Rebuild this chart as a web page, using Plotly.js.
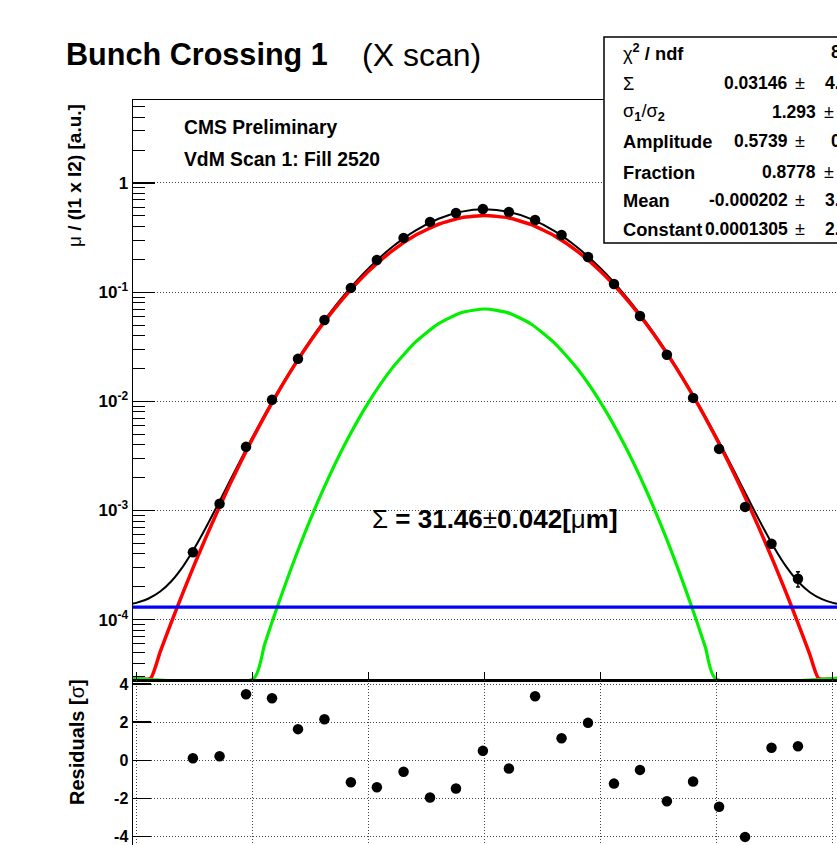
<!DOCTYPE html>
<html>
<head>
<meta charset="utf-8">
<script src="https://cdn.plot.ly/plotly-3.0.1.min.js"></script>
<style>
html,body{margin:0;padding:0;overflow:hidden;background:#fff;}
#wrap{width:837px;height:845px;overflow:hidden;position:relative;background:#fff;}
</style>
</head>
<body>
<div id="wrap"><div id="plot" style="width:860px;height:880px"></div></div>
<script>
// ---- scan data (x in mm) ----
const scanX = [-0.1259, -0.1144, -0.1030, -0.0918, -0.0806, -0.0692, -0.0578, -0.0466, -0.0351, -0.0237, -0.0125, -0.0009,
               0.0103, 0.0216, 0.0330, 0.0444, 0.0556, 0.0668, 0.0784, 0.0897, 0.1009, 0.1121, 0.1235, 0.1349];
const scanRate = [4.15e-4, 1.153e-3, 3.83e-3, 0.01032, 0.0245, 0.0557, 0.1094, 0.197, 0.314, 0.440, 0.531, 0.578,
                  0.543, 0.458, 0.334, 0.210, 0.119, 0.0606, 0.0267, 0.01076, 3.67e-3, 1.08e-3, 4.96e-4, 2.37e-4];
const scanErr = [2.2e-5, 3.5e-5, 7e-5, 1.2e-4, 2.2e-4, 3.5e-4, 5.5e-4, 8e-4, 1.1e-3, 1.4e-3, 1.6e-3, 1.7e-3,
                 1.6e-3, 1.4e-3, 1.2e-3, 8.5e-4, 5.8e-4, 3.6e-4, 2.1e-4, 1.2e-4, 6.8e-5, 3.8e-5, 2.5e-5, 3.8e-5];
const residuals = [0.10, 0.21, 3.46, 3.25, 1.63, 2.15, -1.16, -1.42, -0.61, -1.96, -1.49, 0.49,
                   -0.44, 3.36, 1.15, 1.96, -1.23, -0.51, -2.16, -1.12, -2.45, -4.03, 0.65, 0.73];

// ---- fit curves ----
const totalX = [-0.152, -0.15, -0.145, -0.14, -0.135, -0.13, -0.125, -0.12, -0.115, -0.11, -0.105, -0.10,
                -0.09, -0.08, -0.07, -0.06, -0.05, -0.04, -0.03, -0.02, -0.01, 0,
                0.01, 0.02, 0.03, 0.04, 0.05, 0.06, 0.07, 0.08, 0.09,
                0.10, 0.105, 0.11, 0.115, 0.12, 0.125, 0.13, 0.135, 0.14, 0.145, 0.15, 0.152];
const totalY = [1.403e-4, 1.435e-4, 1.5654e-4, 1.814e-4, 2.2765e-4, 3.116e-4, 4.6047e-4, 7.175e-4, 1.1510e-3, 1.8632e-3, 3.0060e-3, 4.7926e-3,
                0.011567, 0.025733, 0.052485, 0.097916, 0.16683, 0.25929, 0.36665, 0.47054, 0.54666, 0.57403,
                0.54438, 0.46669, 0.3622, 0.25518, 0.16359, 0.095629, 0.051078, 0.024957, 0.011178,
                0.0046177, 2.8928e-3, 0.0017923, 1.1072e-3, 0.00069117, 4.451e-4, 0.00030281, 2.2275e-4, 0.00017874, 1.5514e-4, 0.00014279, 0.0001398];
const redX = [-0.152, -0.1442, -0.14, -0.135, -0.13, -0.125, -0.12, -0.115, -0.11, -0.105, -0.10,
              -0.09, -0.08, -0.07, -0.06, -0.05, -0.04, -0.03, -0.02, -0.01, 0,
              0.01, 0.02, 0.03, 0.04, 0.05, 0.06, 0.07, 0.08, 0.09,
              0.10, 0.105, 0.11, 0.115, 0.12, 0.125, 0.13, 0.135, 0.14, 0.1438, 0.152];
const redY = [2.9e-5, 2.9e-5, 5.0875e-5, 9.711e-5, 1.8102e-4, 3.2964e-4, 5.8614e-4, 1.0183e-3, 1.7274e-3, 2.8632e-3, 4.6345e-3,
              0.011314, 0.025136, 0.050841, 0.093586, 0.15675, 0.23901, 0.33166, 0.4189, 0.4815, 0.50377,
              0.47964, 0.4157, 0.32787, 0.2354, 0.15382, 0.091457, 0.0495, 0.024384, 0.010932,
              0.0044613, 2.7508e-3, 0.0016569, 9.747e-4, 0.00055997, 3.1432e-4, 0.00017231, 9.225e-5, 0.00004824, 2.9e-5, 2.9e-5];
const greenX = [-0.152, -0.0997, -0.095, -0.09, -0.08, -0.07, -0.06, -0.05, -0.04, -0.03, -0.02, -0.01, 0,
                0.01, 0.02, 0.03, 0.04, 0.05, 0.06, 0.07, 0.08, 0.09, 0.095, 0.0993, 0.152];
const greenY = [2.9e-5, 2.9e-5, 5.929e-5, 1.2264e-4, 4.6613e-4, 1.5136e-3, 4.1996e-3, 9.954e-3, 0.020151, 0.034855, 0.05151,
                0.06503, 0.070131, 0.064614, 0.050861, 0.034197, 0.019647, 0.0096428, 0.004042, 0.0014479, 4.4299e-4,
                1.1583e-4, 5.583e-5, 2.9e-5, 2.9e-5];
const constX = [-0.152, 0.152];
const constY = [1.305e-4, 1.305e-4];

// ---- axis labels ----
const majorTickVals = [1e-4, 1e-3, 1e-2, 1e-1, 1];
const majorTickText = ['10<sup>-4</sup>', '10<sup>-3</sup>', '10<sup>-2</sup>', '10<sup>-1</sup>', '1'];
const residTickVals = [-4, -2, 0, 2, 4];
const residTickText = ['-4', '-2', '0', '2', '4'];

// ---- stats box text ----
const statLabels = ['χ<sup><b>2</b></sup><b> / ndf</b>', 'Σ', 'σ<sub><b>1</b></sub>/σ<sub><b>2</b></sub>',
                    '<b>Amplitude</b>', '<b>Fraction</b>', '<b>Mean</b>', '<b>Constant</b>'];
const statValues = ['', '0.03146', '1.293', '0.5739', '0.8778', '-0.000202', '0.0001305'];
const statErrors = ['81.98 / 21', '4.213e-05', '0.0157', '0.0006', '0.0021', '3.3e-05', '2.1e-05'];

const FONT = 'Liberation Sans, Arial, Helvetica, sans-serif';
const W = 860, H = 880, L = 133, R = 22, T = 100, B = 25;
const PW = W - L - R, PH = H - T - B;
const splitY = 680;
const splitFrac = (T + PH - splitY) / PH;
function px(x) { return (x - L) / PW; }
function py(y) { return (T + PH - y) / PH; }

const traces = [
  {x: totalX, y: totalY, xaxis: 'x', yaxis: 'y', mode: 'lines', line: {color: '#000', width: 2, shape: 'spline', smoothing: 0.7}, hoverinfo: 'skip'},
  {x: redX, y: redY, xaxis: 'x', yaxis: 'y', mode: 'lines', line: {color: '#ff0000', width: 3.5, shape: 'spline', smoothing: 0.5}, hoverinfo: 'skip'},
  {x: greenX, y: greenY, xaxis: 'x', yaxis: 'y', mode: 'lines', line: {color: '#00f000', width: 3.2, shape: 'spline', smoothing: 0.6}, hoverinfo: 'skip'},
  {x: constX, y: constY, xaxis: 'x', yaxis: 'y', mode: 'lines', line: {color: '#0000ff', width: 3.2}, hoverinfo: 'skip'},
  {x: scanX, y: scanRate, xaxis: 'x', yaxis: 'y', mode: 'markers',
   marker: {color: '#000', size: 10.5},
   error_y: {type: 'data', array: scanErr, visible: true, color: '#000', thickness: 1.5, width: 2}},
  {x: scanX, y: residuals, xaxis: 'x2', yaxis: 'y2', mode: 'markers', marker: {color: '#000', size: 10.5}}
];

const gridStyle = {gridcolor: '#444', gridwidth: 1, griddash: '1px,2px'};
const tickFont = {family: FONT, size: 17, weight: 'bold', color: '#000'};

const minorVals = [];
for (let e = -5; e <= 0; e++) for (let k = 2; k <= 9; k++) minorVals.push(k * Math.pow(10, e));

const layout = {
  width: W, height: H,
  margin: {l: L, r: R, t: T, b: B, pad: 0},
  paper_bgcolor: '#fff', plot_bgcolor: '#fff',
  showlegend: false,
  xaxis: {domain: [0, 1], anchor: 'y', range: [-0.15172, 0.15216], showline: true, linecolor: '#000', linewidth: 1.5,
          mirror: true, ticks: 'inside', ticklen: 8, tickwidth: 1, tickcolor: '#000', dtick: 0.05, tick0: 0,
          showticklabels: false, showgrid: false, zeroline: false, automargin: false},
  yaxis: Object.assign({domain: [splitFrac, 1], anchor: 'x', type: 'log', range: [-4.552, 0.760], showline: true,
          linecolor: '#000', linewidth: 1.5, mirror: true, ticks: 'inside', ticklen: 22, tickwidth: 1.2, tickcolor: '#000',
          tickmode: 'array', tickvals: majorTickVals, ticktext: majorTickText, tickfont: tickFont,
          showgrid: true, zeroline: false, automargin: false,
          minor: {tickmode: 'array', tickvals: minorVals, ticks: 'inside', ticklen: 12, tickwidth: 1, tickcolor: '#000', showgrid: false}
          }, gridStyle),
  xaxis2: Object.assign({domain: [0, 1], anchor: 'y2', range: [-0.15172, 0.15216], showline: true, linecolor: '#000',
          linewidth: 1.5, mirror: true, ticks: 'inside', ticklen: 8, tickwidth: 1, tickcolor: '#000', dtick: 0.05, tick0: 0,
          showticklabels: false, showgrid: true, zeroline: false, automargin: false}, gridStyle),
  yaxis2: Object.assign({domain: [0, splitFrac], anchor: 'x2', range: [-4.98, 4.21], showline: true, linecolor: '#000',
          linewidth: 1.5, mirror: true, ticks: 'inside', ticklen: 18, tickwidth: 1.2, tickcolor: '#000',
          tickmode: 'array', tickvals: residTickVals, ticktext: residTickText,
          tickfont: {family: FONT, size: 16, weight: 'bold', color: '#000'},
          showgrid: true, zeroline: false, automargin: false}, gridStyle),
  shapes: [
    {type: 'rect', xref: 'paper', yref: 'paper', x0: px(604), x1: px(990), y0: py(243), y1: py(37),
     line: {color: '#000', width: 1.5}, fillcolor: '#fff', layer: 'above'}
  ],
  annotations: []
};

const ann = layout.annotations;
function addText(text, x, y, size, xanchor, extra) {
  ann.push(Object.assign({xref: 'paper', yref: 'paper', x: px(x), y: py(y), xanchor: xanchor || 'left', yanchor: 'middle',
    text: text, showarrow: false, font: {family: FONT, size: size, color: '#000'}}, extra || {}));
}
// title
addText('<b>Bunch Crossing 1</b>', 64, 55, 30.6, 'left');
addText('(X scan)', 360, 55, 32, 'left');
// CMS labels
addText('<b>CMS Preliminary</b>', 182, 127, 19.3, 'left');
addText('<b>VdM Scan 1: Fill 2520</b>', 182, 160, 19.3, 'left');
// axis titles
addText('μ<b> / (I1 x I2) [a.u.]</b>', 74, 176, 19, 'center', {textangle: -90});
addText('<b>Residuals [</b>σ<b>]</b>', 77, 742, 20, 'center', {textangle: -90});
// sigma label
addText('Σ<b> = 31.46</b>±<b>0.042[</b>μ<b>m]</b>', 495, 519, 26, 'center');
// stats box
const rowY = [52, 83, 112, 141, 172, 200, 229];
const valueEnd = [0, 790, 818, 790, 818, 790, 790];
const pmStart = [0, 793, 822, 793, 822, 793, 793];
const errStart = [829, 823, 850, 829, 850, 823, 823];
for (let i = 0; i < statLabels.length; i++) {
  addText(statLabels[i], 621, rowY[i], 18.3, 'left');
  if (statValues[i]) {
    addText('<b>' + statValues[i] + '</b>', valueEnd[i], rowY[i], 17.5, 'right');
    addText('±', pmStart[i], rowY[i], 18, 'left');
  }
  addText('<b>' + statErrors[i] + '</b>', errStart[i], rowY[i], 17.5, 'left');
}

Plotly.newPlot('plot', traces, layout, {displayModeBar: false, staticPlot: true});
</script>
</body>
</html>
